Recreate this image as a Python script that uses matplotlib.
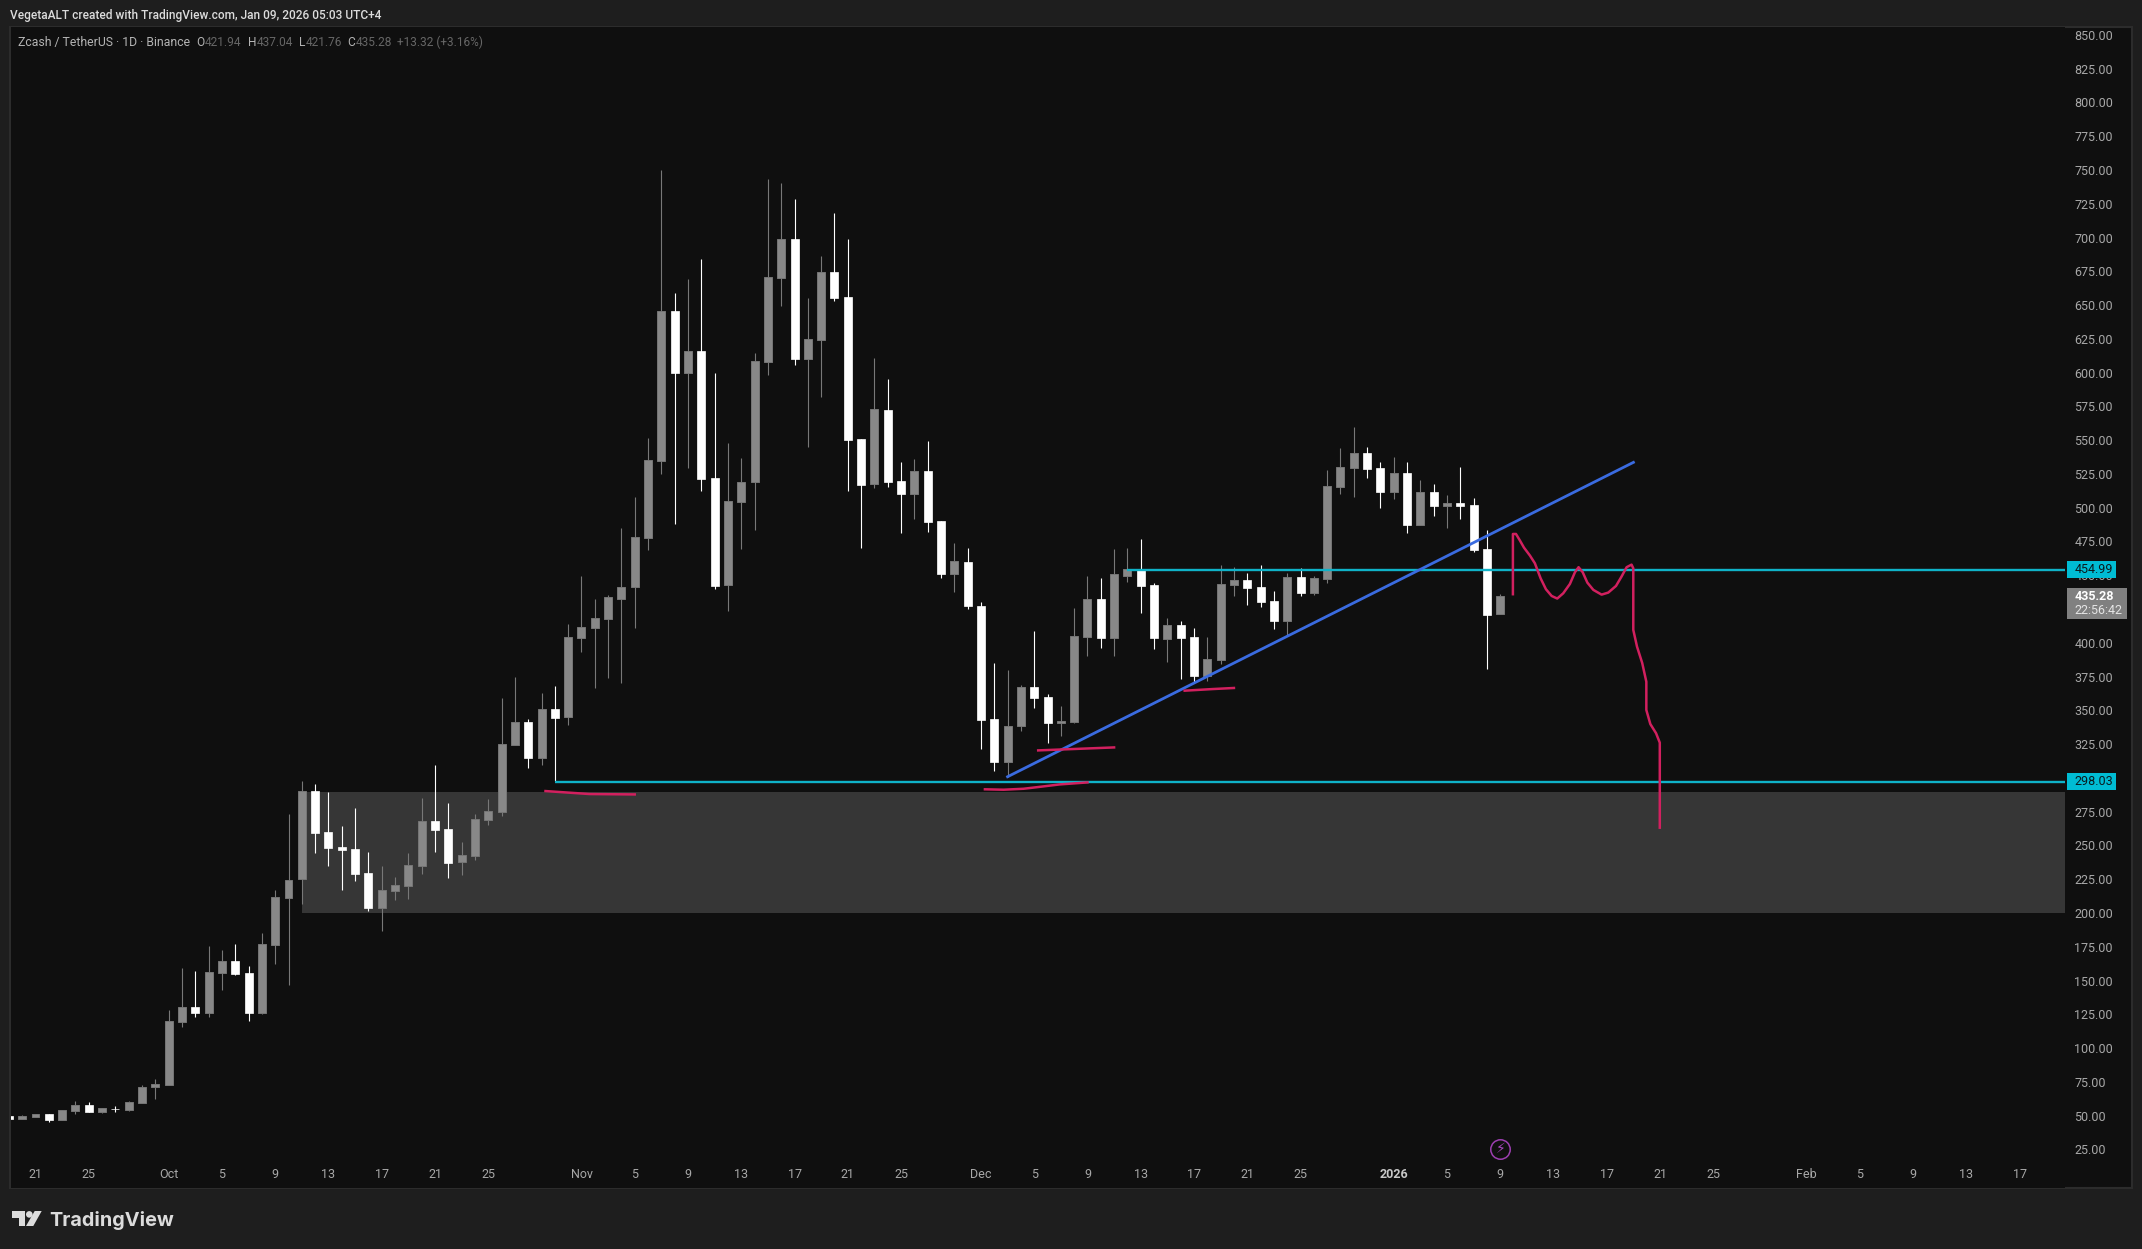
import matplotlib
matplotlib.use('Agg')
import matplotlib.pyplot as plt
from matplotlib.patches import Rectangle, Polygon, Circle
from matplotlib.transforms import ScaledTranslation
import numpy as np

# days counted from Sep 21 2025
days = np.arange(-2, 111)

opens = [50.5,48.6,50,52,47.8,54.5,58.4,53.7,56,55.2,60.4,71.7,
    73.7,120.3,131,127,156.6,165,156.4,127,177.3,212.1,225.7,291,260.7,249.6,248.1,230.3,204.7,217.3,221,235.8,268.8,262.9,238.7,243.2,269.8,275.7,325.3,342.1,315.7,351.7,345.6,
    404.5,411.9,418.6,433.4,441.8,478.6,535.6,646.1,600.7,616.7,522.5,443.8,505.2,520,608.8,671,699.6,610.8,625.1,675.2,656.7,551.6,518.1,572.8,520.3,511.2,527.9,490.9,451.9,460.6,
    428,344.3,312.7,338.9,368,360.6,341.6,342.3,405.3,433.1,404.5,450.4,455.1,443.5,403.8,413.9,405,376.4,388,443.5,447.2,442,431.6,416.8,449.4,437.6,447.9,516.4,530.4,541,529.9,
    512.7,526.2,488.2,512.2,502.3,504,502.8,470.2,421.94]
highs = [50.5,51.3,52.2,52,54.7,61.6,60.9,56.2,57.7,61.4,73.2,77.9,
    129,159.8,157.8,176.3,173.4,177.8,161.5,186,217.8,274,298.4,296.2,290.3,265.1,278.5,245.6,235.3,227.6,245.4,285.6,310.3,282.2,253.3,273.8,285.1,360.1,375.4,344.3,363.3,368.5,414.6,
    450.2,433.1,436.1,485.7,508.4,552.3,750.7,659.4,669.8,684.6,600.2,548.4,537.5,615,744,741.1,729,656,687,718.6,699.6,551.6,611.3,596,534.3,536.8,550.1,490.9,474.6,470.9,
    430.7,385.8,380.3,369.7,409.4,362.6,353.9,426.2,449.9,448.7,469.9,470.9,477.3,444.7,419,416.8,411.4,405,458,456.8,452.1,458,438.8,452.4,455.8,449.9,528.7,545,560.3,545.7,534.4,
    538.1,534.4,521,518.1,510,530.7,507.7,484,437.04]
lows = [48.6,48.6,50,46.1,47.8,52,53.7,53,53.7,54.5,60.4,63.1,
    73.7,116.6,123.8,124,143.8,154.9,121,126.3,163,147.7,207.4,245.4,235.8,218,224.4,202.5,187.7,210.1,211.1,229.6,245.9,226.9,228.9,240,265.9,272.5,325.3,308.3,310.3,298.4,339.9,
    393.9,367.5,374.7,371.2,411.9,469.5,525.7,488.7,530.2,513.4,440.8,424.6,470.4,484.3,599,650.3,606.4,545.9,582.4,654,513.4,470.9,515.6,516.1,482.3,492.6,483,449,438.6,426,
    322.1,306.1,301.6,335.7,352.5,326.8,331.7,341.4,391,397.1,391.2,446,423,396.4,386.5,374.2,371.7,372.7,385.3,435.3,428.7,427.2,410.9,406,435.4,436.1,445.2,510.9,508.7,522.8,500.8,
    507.2,482.3,488.2,494.6,486,492.7,468.3,381.7,421.76]
closes = [48.6,50.3,52,47.8,54.7,58.4,53.7,56.2,55.5,60.6,71.7,74,
    120.6,131,127,156.9,165,155.6,127,177.6,212.4,225,291,260.2,249.1,247.4,229.9,204.7,217.5,221.2,236,268.6,262.2,237.8,243.4,270.1,276,325.6,341.9,315.7,351.5,345.1,404.8,
    412.2,418.8,434.4,441.8,478.8,535.8,646.1,600.7,616.5,522,442.8,505.5,519.5,609.1,671.3,699.4,610.8,625.4,675,656,550.9,517.8,573.6,519.8,511.2,527.7,490.4,451.9,461.1,428.3,
    343.6,312.5,338.9,367.8,359.9,341.4,342.6,405.5,432.9,404.5,451.4,455.1,442.8,404.3,413.6,404.3,376.1,388.5,444,447,441.3,430.9,416.8,449.2,437.3,448.4,516.5,530.7,541,529.4,512.7,
    526.2,488.2,512.2,502,504,502,469.5,421.6,435.28]

# 300 and 425 sit fully behind the price boxes in the reference, so no label there
price_ticks = list(range(25, 875, 25))
hidden_ticks = [300, 425]
tick_days = [0,4,10,14,18,22,26,30,34,41,45,49,53,57,61,65,71,75,79,83,87,91,95,102,106,110,114,118,122,126,133,137,141,145,149]
tick_names = ['21','25','Oct','5','9','13','17','21','25','Nov','5','9','13','17','21','25','Dec','5','9','13','17','21','25','2026','5','9','13','17','21','25','Feb','5','9','13','17']

level_high = 454.99
level_low = 298.03
zone_top = 290.5
zone_bot = 200.5

trend_x = [73, 120]
trend_y = [301.6, 534.3]
mark1_x = [38.3, 41.6, 45.0]
mark1_y = [291.0, 288.8, 288.5]
mark2_x = [71.3, 72.7, 74.2, 75.4, 76.9, 79.0]
mark2_y = [292.3, 292.0, 292.7, 294.1, 295.9, 297.4]
mark3_x = [75.3, 77.9, 81.0]
mark3_y = [321.1, 322.1, 323.3]
mark4_x = [86.3, 88.4, 90.0]
mark4_y = [365.3, 366.5, 367.3]
path_x = [110.95,110.95,111.18,111.48,111.78,112.23,112.6,113.03,113.43,113.86,114.28,114.73,115.23,115.61,115.88,116.19,116.54,116.99,117.61,118.11,118.69,119.11,119.49,119.86,119.99,119.99,120.27,120.66,120.97,120.97,121.27,121.7,121.98,121.98]
path_y = [436.7,481.3,481.3,476.4,471.2,465.3,459.6,448.5,440.4,435.4,433.5,437.4,444.3,453,456.7,453,445.3,439.9,436.4,437.9,442.8,449.8,456.7,458.6,455.9,410.3,397.9,385.8,371.9,351,340.6,333.8,326.8,263.9]

W, H = 2142, 1249
PAGE = '#1e1e1e'
PANE = '#0f0f0f'
GREY = '#888888'
CYAN = '#00bcd4'
RED = '#d2205f'
FONT = ['Roboto', 'DejaVu Sans']
plt.rcParams['font.family'] = FONT

fig = plt.figure(figsize=(W/100, H/100), dpi=100, facecolor=PAGE)

# page background and frame, in pixels
bg = fig.add_axes([0, 0, 1, 1], zorder=-1)
bg.set_xlim(0, W)
bg.set_ylim(H, 0)
bg.axis('off')
bg.add_patch(Rectangle((9.5, 26.7), 2122, 1161.5, facecolor=PANE, edgecolor='#2c2c2c', lw=1.5))

left, right, top, bottom = 10.5, 2065, 27, 1188
ax = fig.add_axes([left/W, 1-bottom/H, (right-left)/W, (bottom-top)/H], facecolor=PANE)
x_left = (left-35.5)/13.316
x_right = (right-35.5)/13.316
ax.set_xlim(x_left, x_right)
ax.set_ylim(500-(bottom-508.7)/1.351, 500-(top-508.7)/1.351)
for s in ax.spines.values():
    s.set_visible(False)

ax.fill_between([20, x_right], zone_bot, zone_top, color='#363636', lw=0, zorder=1)

o = np.array(opens)
c = np.array(closes)
up = c >= o
hi = np.array(highs)
lo = np.array(lows)
ax.vlines(days[up], lo[up], hi[up], color='#787878', lw=0.8, zorder=2)
ax.vlines(days[~up], lo[~up], hi[~up], color='white', lw=0.8, zorder=2)
ax.bar(days[up], (c-o)[up], bottom=o[up], width=0.6, color=GREY, edgecolor='#767676', lw=0.7, zorder=3)
ax.bar(days[~up], (o-c)[~up], bottom=c[~up], width=0.6, color='white', edgecolor='white', lw=0.5, zorder=3)

ax.hlines(level_high, 82, x_right, color='#0fb2c8', lw=1.7, zorder=4)
ax.hlines(level_low, 39, x_right, color='#0fb2c8', lw=1.7, zorder=4)
ax.plot(trend_x, trend_y, color='#3a6be0', lw=2.0, zorder=5)
for mx, my in [(mark1_x, mark1_y), (mark2_x, mark2_y), (mark3_x, mark3_y), (mark4_x, mark4_y), (path_x, path_y)]:
    ax.plot(mx, my, color=RED, lw=1.8, zorder=6)

# lightning icon under the last bar
ax.plot([110], [26.3], 'o', mfc='none', mec='#9c3fb0', mew=1.1, ms=14, zorder=6)
ax.text(110, 26.3, '\u26a1', color='#a848c0', fontsize=10, ha='center', va='center', family='DejaVu Sans', zorder=7)

ax.set_yticks(price_ticks)
ax.set_yticklabels(['' if p in hidden_ticks else '%.2f' % p for p in price_ticks])
ax.yaxis.tick_right()
ax.tick_params(axis='y', length=0, pad=6.8, labelsize=9, labelcolor='#a8a8a8')
nudge = ScaledTranslation(0, 1/100, fig.dpi_scale_trans)
for lab in ax.get_yticklabels():
    lab.set_transform(lab.get_transform() + nudge)
ax.set_xticks(tick_days)
ax.set_xticklabels(tick_names)
ax.tick_params(axis='x', length=0, pad=-14.5, labelsize=9, labelcolor='#a8a8a8')
for lab, name in zip(ax.get_xticklabels(), tick_names):
    if name == '2026':
        lab.set_fontweight('bold')
        lab.set_color('#c8c8c8')

# price boxes sitting over the axis labels
yt = ax.get_yaxis_transform()
def fx(px):
    return (px-left)/(right-left)
for lev in [level_high, level_low]:
    ax.add_patch(Rectangle((fx(2066.7), lev-6.3), fx(2116)-fx(2066.7), 12.6, transform=yt, facecolor=CYAN, lw=0, clip_on=False, zorder=8))
    ax.text(fx(2074.7), lev, '%.2f' % lev, transform=yt, color='#0a1a1e', fontsize=9, va='center', clip_on=False, zorder=9)
ax.add_patch(Rectangle((fx(2066.7), 418.4), fx(2126.7)-fx(2066.7), 22.8, transform=yt, facecolor='#808080', lw=0, clip_on=False, zorder=8))
ax.text(fx(2074.7), closes[-1], '%.2f' % closes[-1], transform=yt, color='white', fontsize=9, fontweight='bold', va='center', clip_on=False, zorder=9)
ax.text(fx(2074.7), closes[-1]-10.3, '22:56:42', transform=yt, color='#e4e4e4', fontsize=9, va='center', clip_on=False, zorder=9)

# header and legend text, in pixels
top_ax = fig.add_axes([0, 0, 1, 1], zorder=10)
top_ax.set_xlim(0, W)
top_ax.set_ylim(H, 0)
top_ax.axis('off')
top_ax.patch.set_alpha(0)
top_ax.text(10, 15, 'VegetaALT created with TradingView.com, Jan 09, 2026 05:03 UTC+4', color='#dcdcdc', fontsize=8.6, fontweight='medium', va='center')
top_ax.text(18, 42, 'Zcash / TetherUS \u00b7 1D \u00b7 Binance', color='#b4b4b4', fontsize=8.8, va='center')
for px, letter, val in [(196, 'O', '421.94'), (248, 'H', '437.04'), (299, 'L', '421.76'), (347, 'C', '435.28')]:
    top_ax.text(px, 42, letter, color='#b4b4b4', fontsize=8.6, va='center')
    top_ax.text(px+8.5 if letter != 'L' else px+7, 42, val, color='#666666', fontsize=8.6, va='center')
top_ax.text(397, 42, '+13.32 (+3.16%)', color='#666666', fontsize=8.6, va='center')

# logo
LOGO = '#dcdcdc'
top_ax.add_patch(Polygon([(12, 1211), (25, 1211), (25, 1226), (18.5, 1226), (18.5, 1218), (12, 1218)], color=LOGO, lw=0))
top_ax.add_patch(Circle((29.3, 1214.4), 3.3, color=LOGO, lw=0))
top_ax.add_patch(Polygon([(34.7, 1211), (41.7, 1211), (33.3, 1226), (26, 1226)], color=LOGO, lw=0))
top_ax.text(49.5, 1226, 'TradingView', color=LOGO, fontsize=14.3, fontweight='bold', family=['Inter', 'DejaVu Sans'], va='baseline')

fig.savefig('out.png', dpi=100, facecolor=PAGE)
